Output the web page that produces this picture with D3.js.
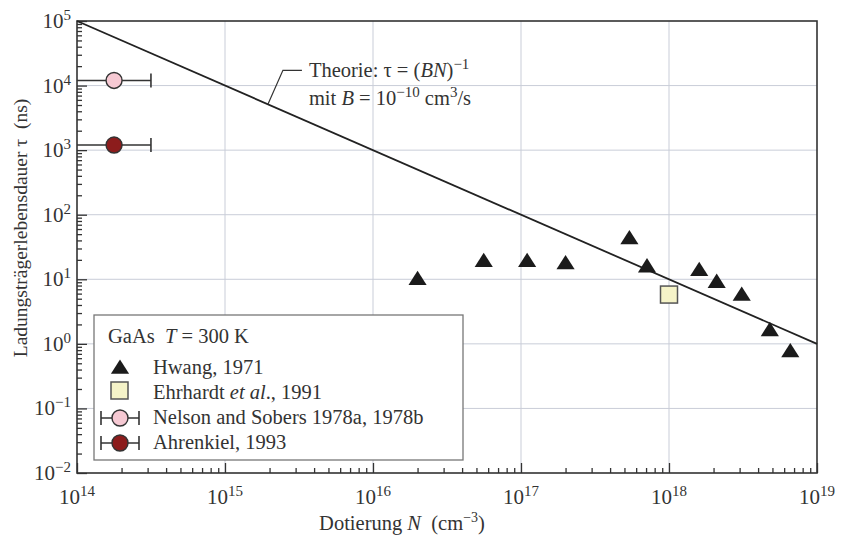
<!DOCTYPE html>
<html>
<head>
<meta charset="utf-8">
<script src="https://cdn.jsdelivr.net/npm/d3@7"></script>
<style>
  body { margin: 0; background: #fff; }
  svg { font-family: "Liberation Serif", "Times New Roman", serif; }
</style>
</head>
<body>
<svg width="844" height="538"></svg>
<script>
// Hwang, 1971 (triangles)
const hwangN   = [2.0e16, 5.6e16, 1.1e17, 2.0e17, 5.4e17, 7.1e17, 1.6e18, 2.1e18, 3.1e18, 4.8e18, 6.6e18];
const hwangTau = [10.5, 20, 20, 18.5, 45, 16.5, 14.5, 9.5, 6.0, 1.7, 0.8];
// Ehrhardt et al., 1991 (square)
const ehrN   = [1.0e18];
const ehrTau = [5.8];
// Nelson and Sobers / Ahrenkiel (circles with horizontal error bars)
const circN    = [1.78e14, 1.78e14];
const circTau  = [1.2e4, 1.2e3];
const circNlo  = [1e14, 1e14];
const circNhi  = [3.16e14, 3.16e14];
const circFill = ["#f6c9d3", "#8c1c1c"];
// theory line tau = 1/(B N), B = 1e-10 cm^3/s, tau in ns
const theoryN   = [1e14, 1e19];
const theoryTau = [1e5, 1];

const xExp = [14, 15, 16, 17, 18, 19];
const yExp = [-2, -1, 0, 1, 2, 3, 4, 5];

const svg = d3.select("svg");
const margin = { top: 21, right: 27, bottom: 65, left: 77 };
const width = 844 - margin.left - margin.right;
const height = 538 - margin.top - margin.bottom;

const x = d3.scaleLog().domain([1e14, 1e19]).range([0, width]);
const y = d3.scaleLog().domain([1e-2, 1e5]).range([height, 0]);

const g = svg.append("g").attr("transform", `translate(${margin.left},${margin.top})`);

//grid at decades
g.selectAll(".gx").data(xExp.slice(1, -1)).enter().append("line")
    .attr("x1", d => x(Math.pow(10, d))).attr("x2", d => x(Math.pow(10, d)))
    .attr("y1", 0).attr("y2", height)
    .attr("stroke", "#c9cdd8").attr("stroke-width", 1);
g.selectAll(".gy").data(yExp.slice(1, -1)).enter().append("line")
    .attr("y1", d => y(Math.pow(10, d))).attr("y2", d => y(Math.pow(10, d)))
    .attr("x1", 0).attr("x2", width)
    .attr("stroke", "#c9cdd8").attr("stroke-width", 1);

//ticks (inside)
function minorTicks(exps) {
    const t = [];
    exps.slice(0, -1).forEach(e => { for (let k = 2; k < 10; k++) t.push(k * Math.pow(10, e)); });
    return t;
}
const xAxis = d3.axisBottom(x).tickValues(minorTicks(xExp)).tickSize(-5).tickFormat("");
const xAxisMaj = d3.axisBottom(x).tickValues(xExp.map(e => Math.pow(10, e))).tickSize(-10).tickFormat("");
const yAxis = d3.axisLeft(y).tickValues(minorTicks(yExp)).tickSize(-5).tickFormat("");
const yAxisMaj = d3.axisLeft(y).tickValues(yExp.map(e => Math.pow(10, e))).tickSize(-10).tickFormat("");

[xAxis, xAxisMaj].forEach(a => {
    g.append("g").attr("transform", `translate(0,${height})`).call(a)
        .call(s => s.select(".domain").remove())
        .selectAll("line").attr("stroke", "#333").attr("stroke-width", 1.3);
});
[yAxis, yAxisMaj].forEach(a => {
    g.append("g").call(a)
        .call(s => s.select(".domain").remove())
        .selectAll("line").attr("stroke", "#333").attr("stroke-width", 1.3);
});

//frame
g.append("rect").attr("width", width).attr("height", height)
    .attr("fill", "none").attr("stroke", "#333").attr("stroke-width", 1.6);

//tick labels
const xl = g.selectAll(".xl").data(xExp).enter().append("text")
    .attr("x", d => x(Math.pow(10, d))).attr("y", height + 31)
    .attr("text-anchor", "middle").attr("font-size", 21).attr("fill", "#333");
xl.append("tspan").text("10");
xl.append("tspan").attr("dy", -8).attr("font-size", 15).text(d => d < 0 ? "\u2212" + (-d) : d);

const yl = g.selectAll(".yl").data(yExp).enter().append("text")
    .attr("x", -6).attr("y", d => y(Math.pow(10, d)) + 7)
    .attr("text-anchor", "end").attr("font-size", 21).attr("fill", "#333");
yl.append("tspan").text("10");
yl.append("tspan").attr("dy", -8).attr("font-size", 15).text(d => d < 0 ? "\u2212" + (-d) : d);

//axis titles
const xt = svg.append("text").attr("x", 402).attr("y", 530)
    .attr("text-anchor", "middle").attr("font-size", 20.5).attr("fill", "#333");
xt.append("tspan").text("Dotierung ");
xt.append("tspan").attr("font-style", "italic").text("N");
xt.append("tspan").text("\u00a0 (cm");
xt.append("tspan").attr("dy", -8).attr("font-size", 14).text("\u22123");
xt.append("tspan").attr("dy", 8).text(")");

svg.append("text").attr("transform", "translate(27,228) rotate(-90)")
    .attr("text-anchor", "middle").attr("font-size", 19.5).attr("fill", "#333")
    .text("Ladungsträgerlebensdauer \u03c4 \u00a0(ns)");

//theory line
const line = d3.line().x(d => x(d[0])).y(d => y(d[1]));
g.append("path").datum(theoryN.map((n, i) => [n, theoryTau[i]]))
    .attr("d", line).attr("fill", "none").attr("stroke", "#222").attr("stroke-width", 1.8);

//annotation
const ax = x(1.95e15), ay = y(1e5 / 19.5);
g.append("path").attr("d", `M${ax},${ay} L${ax + 15},${ay - 34} L${ax + 34},${ay - 34}`)
    .attr("fill", "none").attr("stroke", "#333").attr("stroke-width", 1.2);
const t1 = g.append("text").attr("x", ax + 41).attr("y", ay - 27).attr("font-size", 20.5).attr("fill", "#333");
t1.append("tspan").text("Theorie: \u03c4 = (");
t1.append("tspan").attr("font-style", "italic").text("BN");
t1.append("tspan").text(")");
t1.append("tspan").attr("dy", -8).attr("font-size", 15).text("\u22121");
const t2 = g.append("text").attr("x", ax + 41).attr("y", ay + 1).attr("font-size", 20.5).attr("fill", "#333");
t2.append("tspan").text("mit ");
t2.append("tspan").attr("font-style", "italic").text("B");
t2.append("tspan").text(" = 10");
t2.append("tspan").attr("dy", -8).attr("font-size", 15).text("\u221210");
t2.append("tspan").attr("dy", 8).text(" cm");
t2.append("tspan").attr("dy", -8).attr("font-size", 15).text("3");
t2.append("tspan").attr("dy", 8).text("/s");

//markers
const tri = d3.symbol().type(d3.symbolTriangle).size(118);
function drawErrCircle(sel, cx, lo, hi, cy, fill) {
    sel.append("line").attr("x1", lo).attr("x2", hi).attr("y1", cy).attr("y2", cy)
        .attr("stroke", "#333").attr("stroke-width", 1.6);
    sel.append("line").attr("x1", hi).attr("x2", hi).attr("y1", cy - 7).attr("y2", cy + 7)
        .attr("stroke", "#333").attr("stroke-width", 1.6);
    sel.append("circle").attr("cx", cx).attr("cy", cy).attr("r", 8)
        .attr("fill", fill).attr("stroke", "#333").attr("stroke-width", 1.4);
}
circN.forEach((n, i) => drawErrCircle(g, x(n), x(circNlo[i]), x(circNhi[i]), y(circTau[i]), circFill[i]));

g.selectAll(".tri").data(hwangN).enter().append("path")
    .attr("d", tri)
    .attr("transform", (d, i) => `translate(${x(d)},${y(hwangTau[i]) + 2.4}) scale(1.1,1)`)
    .attr("fill", "#1b1b1b");

g.selectAll(".sq").data(ehrN).enter().append("rect")
    .attr("x", d => x(d) - 8.5).attr("y", (d, i) => y(ehrTau[i]) - 8.5)
    .attr("width", 17).attr("height", 17)
    .attr("fill", "#f5f3c8").attr("stroke", "#555").attr("stroke-width", 1.5);

//legend
const lg = svg.append("g");
lg.append("rect").attr("x", 94).attr("y", 315).attr("width", 369).attr("height", 145)
    .attr("fill", "#fff").attr("stroke", "#777").attr("stroke-width", 1.3);
const lt = lg.append("text").attr("x", 108).attr("y", 343).attr("font-size", 20.5).attr("fill", "#333");
lt.append("tspan").text("GaAs \u00a0");
lt.append("tspan").attr("font-style", "italic").text("T");
lt.append("tspan").text(" = 300 K");

lg.append("path").attr("d", tri).attr("transform", "translate(120,369) scale(1.1,1)").attr("fill", "#1b1b1b");
lg.append("text").attr("x", 153).attr("y", 374).attr("font-size", 20.5).attr("fill", "#333").text("Hwang, 1971");

lg.append("rect").attr("x", 111).attr("y", 382).attr("width", 17).attr("height", 17)
    .attr("fill", "#f5f3c8").attr("stroke", "#555").attr("stroke-width", 1.5);
const le = lg.append("text").attr("x", 153).attr("y", 399).attr("font-size", 20.5).attr("fill", "#333");
le.append("tspan").text("Ehrhardt ");
le.append("tspan").attr("font-style", "italic").text("et al");
le.append("tspan").text("., 1991");

function legendErr(cy, fill) {
    lg.append("line").attr("x1", 101).attr("x2", 139).attr("y1", cy).attr("y2", cy).attr("stroke", "#333").attr("stroke-width", 1.6);
    [101, 139].forEach(px => lg.append("line").attr("x1", px).attr("x2", px).attr("y1", cy - 7).attr("y2", cy + 7)
        .attr("stroke", "#333").attr("stroke-width", 1.6));
    lg.append("circle").attr("cx", 120).attr("cy", cy).attr("r", 8).attr("fill", fill).attr("stroke", "#333").attr("stroke-width", 1.4);
}
legendErr(418, circFill[0]);
lg.append("text").attr("x", 153).attr("y", 424).attr("font-size", 20.5).attr("fill", "#333").text("Nelson and Sobers 1978a, 1978b");
legendErr(443, circFill[1]);
lg.append("text").attr("x", 153).attr("y", 449).attr("font-size", 20.5).attr("fill", "#333").text("Ahrenkiel, 1993");
</script>
</body>
</html>
